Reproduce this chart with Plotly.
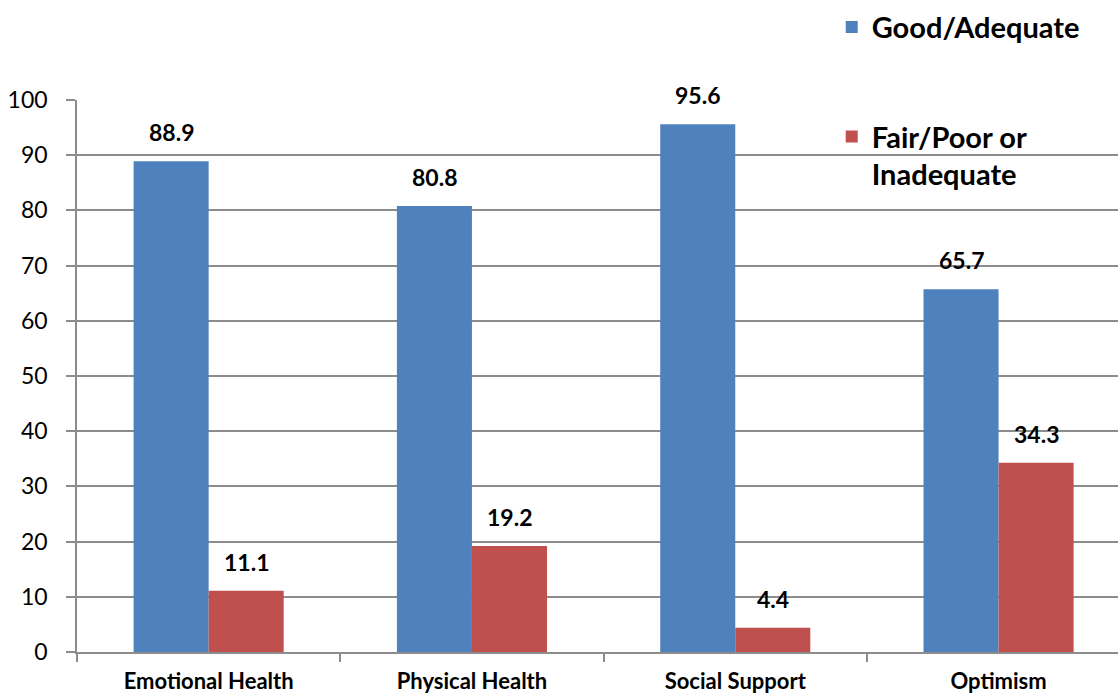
import plotly.graph_objects as go

# Share of respondents by health/wellbeing domain
categories = ["Emotional Health", "Physical Health", "Social Support", "Optimism"]
good_adequate = [88.9, 80.8, 95.6, 65.7]
fair_poor = [11.1, 19.2, 4.4, 34.3]
y_ticks = [0, 10, 20, 30, 40, 50, 60, 70, 80, 90, 100]

BLUE = "#4F81BD"
RED = "#C0504D"
GRID = "#8C8C8C"
FONT = "Lato"

fig = go.Figure()
fig.add_trace(go.Bar(
    x=categories, y=good_adequate, name="Good/Adequate",
    marker=dict(color=BLUE, line=dict(width=0)), legend="legend",
))
fig.add_trace(go.Bar(
    x=categories, y=fair_poor, name="Fair/Poor or<br>Inadequate",
    marker=dict(color=RED, line=dict(width=0)), legend="legend2",
))

# value labels above each bar
annotations = []
for vals, shift in ((good_adequate, -37.5), (fair_poor, 37.5)):
    for cat, v in zip(categories, vals):
        annotations.append(dict(
            x=cat, y=v, xref="x", yref="y", text=f"<b>{v}</b>",
            showarrow=False, xshift=shift, yshift=13, yanchor="bottom",
            font=dict(family=FONT, size=23, color="black"),
        ))

legend_font = dict(family=FONT, size=29, color="black", weight="bold")

fig.update_layout(
    width=1118, height=698,
    margin=dict(l=77, r=0, t=100, b=46),
    paper_bgcolor="white", plot_bgcolor="white",
    barmode="group", bargap=0.43, bargroupgap=0,
    font=dict(family=FONT, color="black"),
    annotations=annotations,
    legend=dict(
        x=0.725, y=1.132, xanchor="left", yanchor="middle",
        bgcolor="rgba(0,0,0,0)", font=legend_font,
        itemclick=False, itemdoubleclick=False,
    ),
    legend2=dict(
        x=0.725, y=0.98, xanchor="left", yanchor="top", valign="top",
        bgcolor="rgba(0,0,0,0)", font=legend_font,
        itemclick=False, itemdoubleclick=False,
    ),
    showlegend=True,
)

fig.update_xaxes(
    range=[-0.5, 3.4536], type="category", automargin=False,
    showline=True, linecolor=GRID, linewidth=1.5,
    ticks="outside", tickson="boundaries", ticklen=8, tickcolor=GRID, tickwidth=1.5,
    tickfont=dict(family=FONT, size=22, color="black", weight="bold"),
    ticklabelstandoff=9, showgrid=False,
)
fig.update_yaxes(
    range=[0, 100], tickvals=y_ticks, automargin=False,
    showline=True, linecolor=GRID, linewidth=1.5,
    ticks="outside", ticklen=9, tickcolor=GRID, tickwidth=1.5,
    showgrid=True, gridcolor=GRID, gridwidth=1.5, zeroline=False,
    tickfont=dict(family=FONT, size=23, color="black"),
    ticklabelstandoff=14,
)

fig.write_html("out.html")
